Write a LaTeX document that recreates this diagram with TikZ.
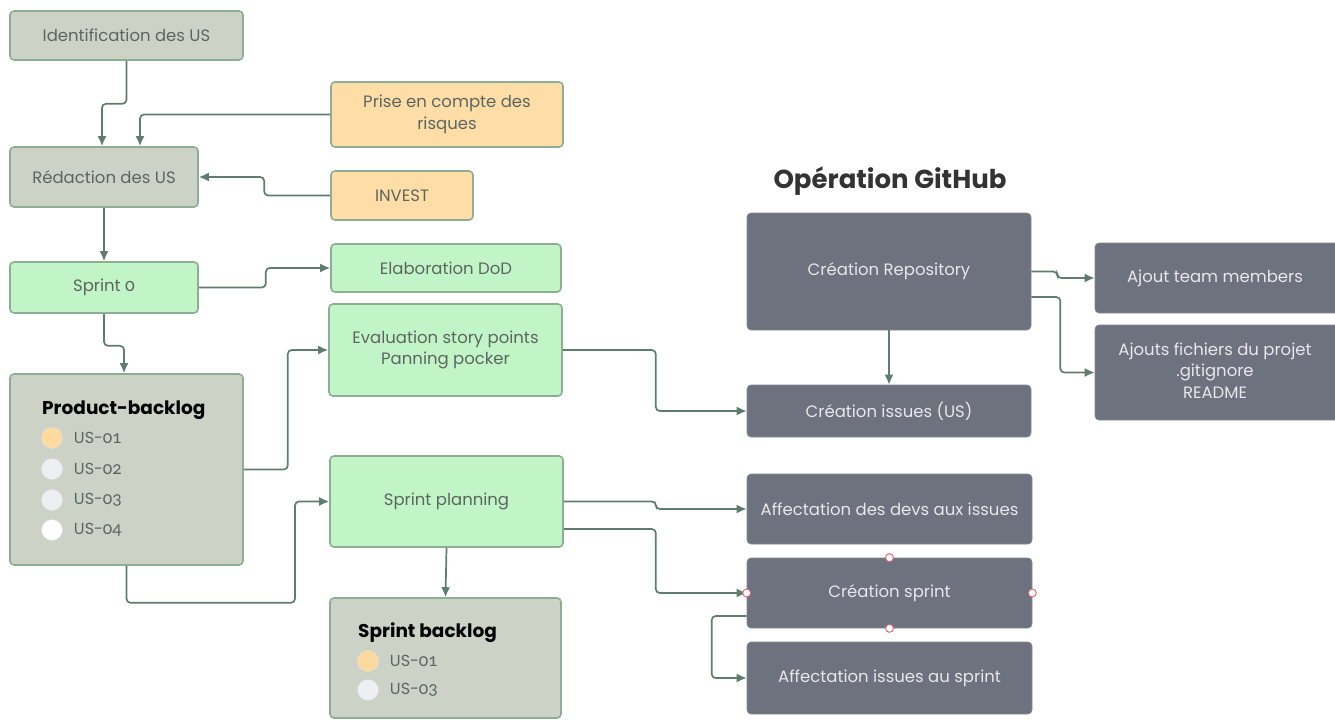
\documentclass[tikz,border=0pt]{standalone}
\usepackage{fontspec}
\setmainfont{Poppins}
\newfontfamily\oldnum{Lato}[Numbers=OldStyle]
\usetikzlibrary{positioning}
\usetikzlibrary{calc}
\usetikzlibrary{arrows.meta}
\definecolor{sageFill}{HTML}{CCD3C6}
\definecolor{boxLine}{HTML}{8DAE92}
\definecolor{boxText}{HTML}{5C6660}
\definecolor{peachFill}{HTML}{FFDDA6}
\definecolor{mintFill}{HTML}{C1F5C7}
\definecolor{slateFill}{HTML}{6D727E}
\definecolor{slateText}{HTML}{E8E8EA}
\definecolor{flowLine}{HTML}{5E7D6E}
\definecolor{dotOrange}{HTML}{FFDA9F}
\definecolor{dotGray}{HTML}{EEEFF2}
\definecolor{handleRed}{HTML}{E2606E}
\tikzset{
  box/.style={% common look of all boxes
    line width=1.6pt,
    rounded corners=4pt,
    align=center,
    inner sep=0pt,
    font=\fontsize{16.5}{21.5}\selectfont
  },
  sagebox/.style={box, draw=boxLine, fill=sageFill, text=boxText},
  peachbox/.style={box, draw=boxLine, fill=peachFill, text=boxText},
  mintbox/.style={box, draw=boxLine, fill=mintFill, text=boxText},
  slatebox/.style={box, draw=slateFill!85!white, line width=0.6pt, fill=slateFill, text=slateText},
  flow/.style={
    draw=flowLine,
    line width=1.7pt,
    rounded corners=4pt,
    -{Latex[length=10pt,width=9pt]}
  },
  usdot/.style={circle, minimum size=21pt, inner sep=0pt, draw=black!12, line width=0.5pt},
  uslabel/.style={anchor=west, inner sep=0pt, text=boxText, font=\fontsize{16}{20}\selectfont},
  listtitle/.style={anchor=west, inner sep=0pt, text=black, font=\fontsize{18.5}{22}\selectfont\bfseries},
  handle/.style={circle, minimum size=8pt, inner sep=0pt, draw=handleRed, fill=white, line width=0.9pt}
}

\begin{document}
\begin{tikzpicture}[x=1pt, y=-1pt]
    \useasboundingbox[fill=white] (0,0) rectangle (1335,720);
    % left column
    \node[sagebox, minimum width=233, minimum height=49] (ident) at (126.5,35.5) {Identification des US};
    \node[sagebox, minimum width=188, minimum height=60] (redaction) at (104,177) {Rédaction des US};
    \node[mintbox, minimum width=188, minimum height=51] (sprintz) at (104,287.5) {Sprint {\oldnum\fontsize{18}{19}\selectfont 0}};
    \node[sagebox, minimum width=233, minimum height=191] (pbacklog) at (126.5,469.5) {};
    % middle column
    \node[peachbox, minimum width=232, minimum height=65] (risques) at (447,114.5) {Prise en compte des\\risques};
    \node[peachbox, minimum width=142, minimum height=49] (invest) at (402,195.5) {INVEST};
    \node[mintbox, minimum width=230, minimum height=48] (dod) at (446,268) {Elaboration DoD};
    \node[mintbox, minimum width=233, minimum height=92] (evaluation) at (445.5,350) {Evaluation story points\\Panning pocker};
    \node[mintbox, minimum width=233, minimum height=91] (planning) at (446.5,501.5) {Sprint planning};
    \node[sagebox, minimum width=231, minimum height=120] (sbacklog) at (445.5,658) {};
    % backlog contents
    \node[listtitle] (ptitle) at (42,410) {Product-backlog};
    \foreach \i/\y/\c in {1/438/dotOrange, 2/469/dotGray, 3/500/dotGray, 4/530/white} {
        \node[usdot, fill=\c] (pdot\i) at (52,\y) {};
        \node[uslabel, right=11pt of pdot\i] (pus\i) {US-{\oldnum\fontsize{17.5}{20}\selectfont 0\i}};
    }
    \node[listtitle] (stitle) at (358,633) {Sprint backlog};
    \foreach \i/\y/\c/\n in {1/661/dotOrange/1, 2/690/dotGray/3} {
        \node[usdot, fill=\c] (sdot\i) at (368,\y) {};
        \node[uslabel, right=11pt of sdot\i] (sus\i) {US-{\oldnum\fontsize{17.5}{20}\selectfont 0\n}};
    }
    % GitHub part
    \node[text=black!80, font=\fontsize{26}{30}\selectfont\bfseries] (github) at (890,181) {Opération GitHub};
    \node[slatebox, minimum width=284, minimum height=117] (repo) at (889,271.5) {Création Repository};
    \node[slatebox, minimum width=250, minimum height=70] (team) at (1220,278) {\hspace*{-10pt}Ajout team members};
    \node[slatebox, minimum width=250, minimum height=95] (fichiers) at (1220,372.5) {\hspace*{-10pt}\begin{tabular}{@{}c@{}}Ajouts fichiers du projet\\.gitignore\\README\end{tabular}};
    \node[slatebox, minimum width=284, minimum height=52] (issues) at (889,411) {Création issues (US)};
    \node[slatebox, minimum width=285, minimum height=70] (devs) at (889.5,509) {Affectation des devs aux issues};
    \node[slatebox, minimum width=285, minimum height=70] (csprint) at (889.5,593) {Création sprint};
    \node[slatebox, minimum width=285, minimum height=72] (affect) at (889.5,678) {Affectation issues au sprint};
    % connectors
    \draw[flow] (ident.south) -- ++(0,43) -| ([xshift=-2pt]redaction.north);
    \draw[flow] (risques.west) -| ([xshift=36pt]redaction.north);
    \draw[flow] (invest.west) -- ++(-66,0) |- (redaction.east);
    \draw[flow] (redaction.south) -- (sprintz.north);
    \draw[flow] (sprintz.east) -- ++(67,0) |- (dod.west);
    \draw[flow] (sprintz.south) -- ++(0,32) -| ([xshift=-2.5pt]pbacklog.north);
    \draw[flow] (pbacklog.east) -- ++(44,0) |- (evaluation.west);
    \draw[flow] (pbacklog.south) -- ++(0,37) -- ++(168.5,0) |- (planning.west);
    \draw[flow] (evaluation.east) -- ++(93,0) |- (issues.west);
    \draw[flow] (planning.east) -- ++(92,0) |- (devs.west);
    \draw[flow] ([yshift=-27.5pt]planning.east) -- ++(92,0) |- (csprint.west);
    \draw[flow] (planning.south) -- (sbacklog.north);
    \draw[flow] (repo.south) -- (issues.north);
    \draw[flow] (repo.east) -- ++(26,0) |- (team.west);
    \draw[flow] ([yshift=-25.5pt]repo.east) -- ++(29,0) |- (fichiers.west);
    \draw[flow] ([yshift=-23pt]csprint.west) -- ++(-35,0) |- (affect.west);
    % selection handles
    \foreach \a in {north, south, east, west} {
        \node[handle] (h\a) at (csprint.\a) {};
    }
\end{tikzpicture}
\end{document}
